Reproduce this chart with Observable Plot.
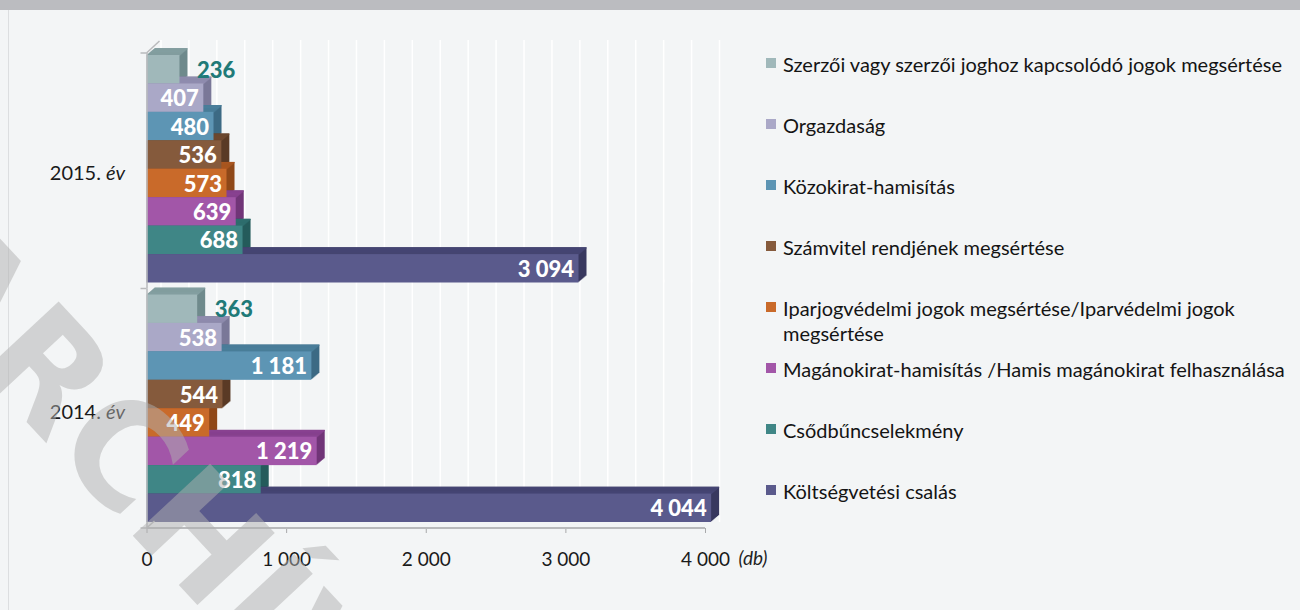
<!DOCTYPE html>
<html><head><meta charset="utf-8">
<script src="https://cdn.jsdelivr.net/npm/d3@7"></script>
<script src="https://cdn.jsdelivr.net/npm/@observablehq/plot@0.6"></script>
<style>
html,body{margin:0;padding:0;background:#f3f5f6;}
#wrap{position:relative;width:1300px;height:610px;overflow:hidden;background:#f3f5f6;font-family:Lato,"Open Sans",sans-serif;}
#band{position:absolute;left:0;top:0;width:1300px;height:10px;background:#bbbcc0;}
#edge{position:absolute;left:8px;top:10px;width:1px;height:600px;background:#dcdee0;}
#chart{position:absolute;left:0;top:0;}
#legend{position:absolute;left:766px;top:52px;}
.item{position:relative;height:61px;}
.sw{position:absolute;left:0;top:6px;width:10px;height:10px;}
.lab{position:absolute;left:17px;top:0;font-size:20px;line-height:25px;color:#141414;white-space:nowrap;}
#wm{position:absolute;left:0;top:0;pointer-events:none;}
</style>
</head><body>
<div id="wrap">
  <div id="band"></div>
  <div id="edge"></div>
  <div id="chart"></div>
  <div id="legend"></div>
</div>
<script>
const categories = [
  "Szerzői vagy szerzői joghoz kapcsolódó jogok megsértése",
  "Orgazdaság",
  "Közokirat-hamisítás",
  "Számvitel rendjének megsértése",
  "Iparjogvédelmi jogok megsértése/Iparvédelmi jogok megsértése",
  "Magánokirat-hamisítás /Hamis magánokirat felhasználása",
  "Csődbűncselekmény",
  "Költségvetési csalás"
];
const legendLabels = [
  "Szerzői vagy szerzői joghoz kapcsolódó jogok megsértése",
  "Orgazdaság",
  "Közokirat-hamisítás",
  "Számvitel rendjének megsértése",
  "Iparjogvédelmi jogok megsértése/Iparvédelmi jogok<br>megsértése",
  "Magánokirat-hamisítás /Hamis magánokirat felhasználása",
  "Csődbűncselekmény",
  "Költségvetési csalás"
];
const years = ["2015. év", "2014. év"];
const values2015 = [236, 407, 480, 536, 573, 639, 688, 3094];
const values2014 = [363, 538, 1181, 544, 449, 1219, 818, 4044];
const xTicks = [0, 1000, 2000, 3000, 4000];
const xMax = 4000;
const unitLabel = "(db)";
const watermark = "ARCHÍV";

const frontColors = ["#a0b8ba", "#aaa8c7", "#5d95b4", "#855a3c", "#c96a2a", "#a256a8", "#3f8686", "#5a5a8c"];
const topColors   = ["#839ea0", "#8f8cae", "#4a7e9a", "#6d4830", "#a95620", "#884290", "#2f6e6e", "#454573"];
const sideColors  = ["#6f8a8c", "#7a7898", "#3c6a84", "#5a3a25", "#8f4818", "#713578", "#245b5b", "#38385f"];
const outsideLabelColor = "#1f7a78";

const data = [];
years.forEach((yr, j) => {
  const vals = j === 0 ? values2015 : values2014;
  categories.forEach((c, i) => data.push({year: yr, category: c, value: vals[i], idx: i}));
});
const fmt = v => d3.format(",")(v).replace(/,/g, " ");

const W = 780, H = 610, mL = 146.5, mR = W - 705, mT = 55, mB = H - 522;
const fyPad = 0.0501;
const facetBw = (H - mT - mB) / (2 - fyPad) * (1 - fyPad);
const bw = facetBw / categories.length;
const DEPTH = 8;

const marks = [];
marks.push(Plot.ruleX(d3.range(0, xMax + 1, 200), {dx: 14, dy: -13, stroke: "#ffffff", strokeWidth: 1.5, insetTop: -2, insetBottom: -13}));
for (let k = 1; k <= DEPTH; k++) {
  marks.push(Plot.barX(data, {x: "value", y: "category", fy: "year", fill: d => sideColors[d.idx], dx: k, dy: -0.85 * k}));
}
for (let k = 1; k <= DEPTH; k++) {
  marks.push(Plot.barX(data, {x: "value", y: "category", fy: "year", fill: d => topColors[d.idx], dx: k, dy: -0.85 * k, insetBottom: bw - 1.3}));
}
marks.push(Plot.barX(data, {x: "value", y: "category", fy: "year", fill: d => frontColors[d.idx]}));
marks.push(Plot.text(data.filter(d => d.idx !== 0), {x: "value", y: "category", fy: "year", text: d => fmt(d.value), textAnchor: "end", dx: -5, dy: 1, fill: "white", fontWeight: 900, fontSize: 22}));
marks.push(Plot.text(data.filter(d => d.idx === 0), {x: "value", y: "category", fy: "year", text: d => fmt(d.value), textAnchor: "start", dx: 17, dy: 1, fill: outsideLabelColor, fontWeight: 900, fontSize: 22}));
marks.push(Plot.ruleX([0], {fy: () => years[0], stroke: "#b9babc", strokeWidth: 1.5, insetTop: -2, insetBottom: -6}));
marks.push(Plot.ruleX([0], {fy: () => years[1], stroke: "#b9babc", strokeWidth: 1.5, insetTop: -6, insetBottom: -6}));
marks.push(Plot.axisX({ticks: xTicks, tickFormat: fmt, tickSize: 5, tickPadding: 19, dy: 6, fontSize: 19, stroke: "#a8a9ab", label: null}));
marks.push(Plot.axisFy({anchor: "left", tickSize: 0, tickPadding: 22, fontSize: 20, dy: 4, label: null}));
marks.push(Plot.text([unitLabel], {x: () => xMax, fy: () => years[1], text: d => d, frameAnchor: "bottom", lineAnchor: "middle", dx: 33, dy: 36, textAnchor: "start", fontStyle: "italic", fontSize: 19, fill: "#222"}));

const plot = Plot.plot({
  width: W, height: H,
  marginLeft: mL, marginRight: mR, marginTop: mT, marginBottom: mB,
  style: {fontFamily: "Lato, 'Open Sans', sans-serif", color: "#1a1a1a", background: "transparent", overflow: "visible"},
  x: {domain: [0, xMax], axis: null},
  y: {domain: categories, padding: 0, round: false, axis: null},
  fy: {domain: years, paddingInner: fyPad, paddingOuter: 0, round: false, label: null},
  marks
});
document.getElementById("chart").appendChild(plot);

// italic "év"
plot.querySelectorAll('g[aria-label="fy-axis tick label"] text').forEach(el => {
  const t = el.textContent; const parts = t.split(" ");
  if (parts.length === 2) {
    el.textContent = parts[0] + " ";
    const ts = document.createElementNS("http://www.w3.org/2000/svg", "tspan");
    ts.setAttribute("font-style", "italic");
    ts.textContent = parts[1];
    el.appendChild(ts);
  }
});

// axis lines derived from the scales
const xS = plot.scale("x"), fyS = plot.scale("fy");
const x0 = xS.apply(0), x1 = xS.apply(xMax);
const fb = fyS.bandwidth;
const s0 = fyS.apply(years[0]), s1 = fyS.apply(years[1]);
const yTop = s0 - 2, yMid = (s0 + fb + s1) / 2, yBot = s1 + fb + 6;
const g = d3.select(plot).append("g").attr("stroke", "#b9babc").attr("stroke-width", 1.5).attr("fill", "none");
g.append("line").attr("x1", x0).attr("x2", x1).attr("y1", yBot).attr("y2", yBot).attr("stroke-width", 2);
[yTop, yMid, yBot].forEach(y => g.append("line").attr("x1", x0 - 6).attr("x2", x0).attr("y1", y).attr("y2", y));
g.append("line").attr("x1", x0).attr("y1", yTop).attr("x2", x0 + 13).attr("y2", yTop - 12);
g.append("line").attr("x1", x0).attr("y1", yBot).attr("x2", x0 + 8).attr("y2", yBot - 7);

// legend
const leg = d3.select("#legend");
categories.forEach((c, i) => {
  const it = leg.append("div").attr("class", "item");
  it.append("div").attr("class", "sw").style("background", frontColors[i]);
  it.append("div").attr("class", "lab").html(legendLabels[i]);
});

// watermark
const wm = d3.select("#wrap").append("svg").attr("id", "wm").attr("width", 1300).attr("height", 610);
wm.append("text").attr("transform", "translate(146,476) rotate(47)")
  .attr("text-anchor", "middle").attr("dominant-baseline", "central")
  .attr("font-family", "DejaVu Sans").attr("font-weight", "bold").attr("font-size", 145)
  .attr("letter-spacing", 2).attr("fill", "#b0b0b0").attr("fill-opacity", 0.5)
  .text(watermark);
</script>
</body></html>
